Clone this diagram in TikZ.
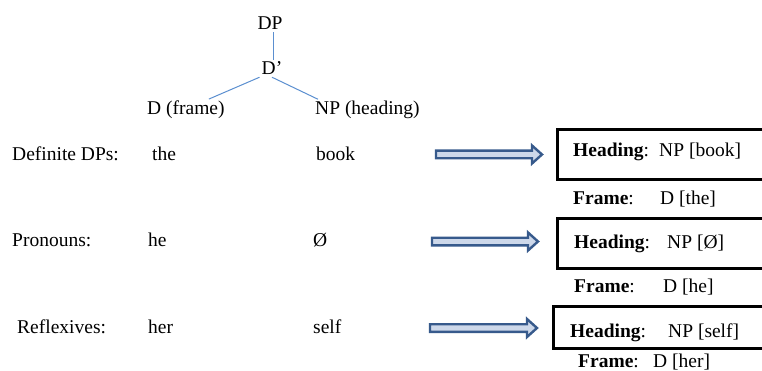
\documentclass[tikz,border=0pt]{standalone}
\usepackage{fontspec}
\setmainfont{Liberation Serif}
\usetikzlibrary{calc}
\definecolor{treeblue}{RGB}{91,143,208}
\definecolor{arrline}{RGB}{55,90,140}
\definecolor{arrfill}{RGB}{205,216,234}
\tikzset{
  txt/.style={anchor=base west, inner sep=0pt, font=\fontsize{19.5}{23}\selectfont},
  tree/.style={anchor=base, inner sep=2pt, font=\fontsize{19.5}{23}\selectfont},
  treeline/.style={draw=treeblue, line width=1pt},
  hbox/.style={draw=black, line width=3pt},
  harrow/.style={draw=arrline, fill=arrfill, line width=2.4pt, line join=miter},
}
\newcommand{\hollowarr}[2]{%
  \draw[harrow] ($(#1)+(0,-3.8)$) -- ($(#2)+(-10,-3.8)$) -- ($(#2)+(-10,-9)$) -- (#2)
    -- ($(#2)+(-10,9)$) -- ($(#2)+(-10,3.8)$) -- ($(#1)+(0,3.8)$) -- cycle;}
\begin{document}
\begin{tikzpicture}[x=1pt,y=-1pt]
\clip (0,0) rectangle (762,371);
\fill[white] (0,0) rectangle (762,371);
% tree
\node[tree] (DP) at (270,30) {DP};
\node[tree] (Dbar) at (272,75) {D’};
\node[txt] (Dframe) at (147,115) {D (frame)};
\node[txt] (NPh) at (315,115) {NP (heading)};
\draw[treeline] ([xshift=1pt]Dbar.north |- DP.south) -- ([xshift=1pt]Dbar.north);
\draw[treeline] (Dbar.south west) -- ([xshift=23pt,yshift=2pt]Dframe.north);
\draw[treeline] (Dbar.south) -- ([xshift=3pt,yshift=2pt]NPh.north west);
% rows
\node[txt] (r1) at (12,160.5) {Definite DPs:};
\node[txt] (r1a) at (152,160.5) {the};
\node[txt] (r1b) at (316,160.5) {book};
\node[txt] (r2) at (12,246.5) {Pronouns:};
\node[txt] (r2a) at (148,246.5) {he};
\node[txt] (r2b) at (313,246.5) {Ø};
\node[txt] (r3) at (17,333) {Reflexives:};
\node[txt] (r3a) at (148,333) {her};
\node[txt] (r3b) at (313,333) {self};
% arrows
\coordinate (a1s) at (436,154.5); \coordinate (a1e) at (542,154.5);
\coordinate (a2s) at (432,241.5); \coordinate (a2e) at (538,241.5);
\coordinate (a3s) at (430,328);   \coordinate (a3e) at (537,328);
\hollowarr{a1s}{a1e}
\hollowarr{a2s}{a2e}
\hollowarr{a3s}{a3e}
% boxes
\draw[hbox] (557,129.5) rectangle (790,179.5);
\draw[hbox] (557,219) rectangle (790,268.5);
\draw[hbox] (553,306.5) rectangle (790,348.5);
% box texts
\node[txt] (h1) at (573,157) {\textbf{Heading}:};
\node[txt] (h1v) at (659,157) {NP [book]};
\node[txt] (f1) at (573,205) {\textbf{Frame}:};
\node[txt] (f1v) at (660,205) {D [the]};
\node[txt] (h2) at (574,248) {\textbf{Heading}:};
\node[txt] (h2v) at (667,248) {NP [Ø]};
\node[txt] (f2) at (574,292) {\textbf{Frame}:};
\node[txt] (f2v) at (663,292) {D [he]};
\node[txt] (h3) at (570,337.5) {\textbf{Heading}:};
\node[txt] (h3v) at (668,337.5) {NP [self]};
\node[txt] (f3) at (578,367) {\textbf{Frame}:};
\node[txt] (f3v) at (653,367) {D [her]};
\end{tikzpicture}
\end{document}
